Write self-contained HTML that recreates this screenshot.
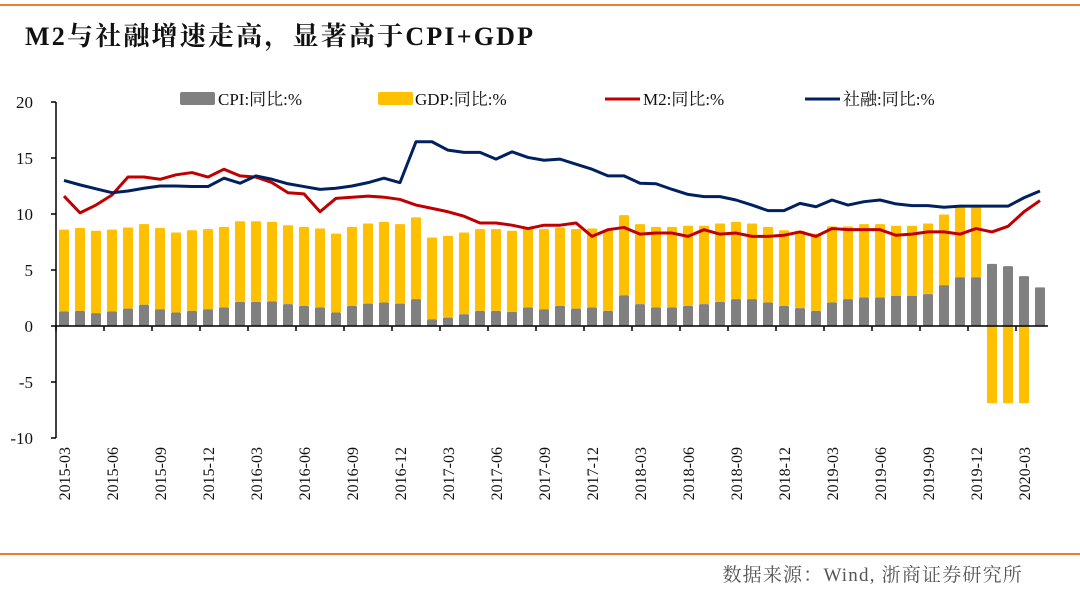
<!DOCTYPE html>
<html><head><meta charset="utf-8">
<style>
html,body{margin:0;padding:0;background:#fff;}
body{width:1080px;height:586px;overflow:hidden;font-family:"Liberation Serif","Noto Serif CJK SC",serif;}
</style></head>
<body>
<svg id="chart" width="1080" height="586" xmlns="http://www.w3.org/2000/svg" font-family="'Liberation Serif','Noto Serif CJK SC',serif">
  <line x1="0" y1="5" x2="1080" y2="5" stroke="#ed7d31" stroke-width="2"/>
  <text x="25" y="45" font-size="26" font-weight="bold" letter-spacing="2.2" fill="#111">M2与社融增速走高，显著高于CPI+GDP</text>
  <line x1="0" y1="554" x2="1080" y2="554" stroke="#ed7d31" stroke-width="2"/>
  <text x="1023" y="581" font-size="19" letter-spacing="1.2" fill="#555" text-anchor="end">数据来源：Wind, 浙商证券研究所</text>
  <g id="legend" font-size="17" fill="#111">
    <g><rect x="180" y="92" width="35" height="13" rx="2" fill="#808080"/><text x="218" y="105">CPI:同比:%</text></g>
    <g><rect x="378" y="92" width="35" height="13" rx="2" fill="#ffc000"/><text x="415" y="105">GDP:同比:%</text></g>
    <g><line x1="605" y1="99" x2="640" y2="99" stroke="#c00000" stroke-width="3"/><text x="643" y="105">M2:同比:%</text></g>
    <g><line x1="805" y1="99" x2="840" y2="99" stroke="#002060" stroke-width="3"/><text x="843" y="105">社融:同比:%</text></g>
  </g>
  <g id="plot"></g>
</svg>
<script>
const categories = ["2015-03","2015-04","2015-05","2015-06","2015-07","2015-08","2015-09","2015-10","2015-11","2015-12",
"2016-01","2016-02","2016-03","2016-04","2016-05","2016-06","2016-07","2016-08","2016-09","2016-10","2016-11","2016-12",
"2017-01","2017-02","2017-03","2017-04","2017-05","2017-06","2017-07","2017-08","2017-09","2017-10","2017-11","2017-12",
"2018-01","2018-02","2018-03","2018-04","2018-05","2018-06","2018-07","2018-08","2018-09","2018-10","2018-11","2018-12",
"2019-01","2019-02","2019-03","2019-04","2019-05","2019-06","2019-07","2019-08","2019-09","2019-10","2019-11","2019-12",
"2020-01","2020-02","2020-03","2020-04"];
const cpi = [1.3,1.35,1.15,1.3,1.55,1.9,1.5,1.2,1.35,1.5,1.65,2.15,2.15,2.2,1.95,1.8,1.65,1.2,1.8,2.0,2.1,2.0,2.4,0.6,0.75,1.05,1.35,1.35,1.25,1.65,1.5,1.8,1.55,1.65,1.35,2.75,1.95,1.65,1.65,1.8,1.95,2.15,2.4,2.4,2.1,1.8,1.6,1.35,2.1,2.4,2.55,2.55,2.7,2.7,2.85,3.65,4.35,4.35,5.55,5.35,4.45,3.45];
const gdp = [7.3,7.4,7.35,7.3,7.25,7.2,7.25,7.15,7.2,7.15,7.2,7.2,7.2,7.1,7.05,7.05,7.05,7.05,7.05,7.15,7.2,7.1,7.3,7.3,7.3,7.3,7.3,7.3,7.25,7.05,7.15,7.0,7.1,7.05,7.2,7.15,7.15,7.2,7.2,7.15,7.0,7.0,6.9,6.75,6.75,6.75,6.9,6.9,6.8,6.5,6.55,6.55,6.25,6.25,6.3,6.3,6.3,6.3,-6.9,-6.9,-6.9,0];
const m2 = [11.6,10.1,10.8,11.7,13.3,13.3,13.1,13.5,13.7,13.3,14.0,13.4,13.3,12.8,11.9,11.8,10.2,11.4,11.5,11.6,11.5,11.3,10.8,10.5,10.2,9.8,9.2,9.2,9.0,8.7,9.0,9.0,9.2,8.0,8.6,8.8,8.2,8.3,8.3,8.0,8.6,8.2,8.3,8.0,8.0,8.1,8.4,8.0,8.7,8.6,8.6,8.6,8.1,8.2,8.4,8.4,8.2,8.7,8.4,8.9,10.2,11.2];
const tsf = [13.0,12.6,12.25,11.9,12.05,12.3,12.5,12.5,12.45,12.45,13.2,12.75,13.4,13.1,12.7,12.45,12.2,12.3,12.5,12.8,13.2,12.8,16.45,16.45,15.7,15.5,15.5,14.9,15.55,15.05,14.8,14.9,14.45,14.0,13.4,13.4,12.75,12.7,12.2,11.75,11.55,11.55,11.25,10.8,10.3,10.3,10.95,10.65,11.25,10.8,11.1,11.25,10.9,10.75,10.75,10.6,10.7,10.7,10.7,10.7,11.45,12.05];
const yTicks = [20,15,10,5,0,-5,-10];

const NS = "http://www.w3.org/2000/svg";
const plot = document.getElementById('plot');
const X0 = 56, STEP = 16, Y0 = 326, PX = 11.2;
const xPos = i => X0 + 8 + STEP * i;
const yPos = v => Y0 - v * PX;
function mk(tag, attrs, parent) {
  const el = document.createElementNS(NS, tag);
  for (const k in attrs) el.setAttribute(k, attrs[k]);
  (parent || plot).appendChild(el);
  return el;
}
let ax = mk('line', {x1: X0, y1: yPos(20), x2: X0, y2: yPos(-10), stroke: '#000', 'stroke-width': 1.5});


yTicks.forEach(t => {
  const tk = mk('line', {x1: X0 - 5, y1: yPos(t), x2: X0, y2: yPos(t), stroke: '#000', 'stroke-width': 1.5});
  
  
  const lb = mk('text', {x: 33, y: yPos(t) + 6, 'text-anchor': 'end', 'font-size': 17, fill: '#111'});
  lb.textContent = t;
  
  
});
categories.forEach((c, i) => {
  const x = xPos(i) - 5;
  const g = gdp[i], p = cpi[i];
  if (g !== 0) {
    let top, h;
    if (g > 0) { top = yPos(p + g); h = g * PX; } else { top = Y0; h = -g * PX; }
    const r = mk('rect', {x: x, y: top, width: 10, height: h, fill: '#ffc000', rx: 1});
    
    
  }
  const r2 = mk('rect', {x: x, y: yPos(p), width: 10, height: p * PX, fill: '#808080', rx: 1});
  
  
});
let xa = mk('line', {x1: X0, y1: Y0, x2: xPos(categories.length - 1) + 8, y2: Y0, stroke: '#000', 'stroke-width': 1.5});


categories.forEach((c, i) => {
  if (i % 3 !== 0) return;
  const tk = mk('line', {x1: X0 + STEP * i, y1: Y0, x2: X0 + STEP * i, y2: Y0 + 5, stroke: '#000', 'stroke-width': 1.5});
  
  
  const lb = mk('text', {x: 0, y: 0, 'font-size': 16, fill: '#111', 'text-anchor': 'end', transform: `translate(${xPos(i) + 6},447) rotate(-90)`});
  lb.textContent = c;
  
  
});
function line(arr, color, name) {
  const pts = arr.map((v, i) => xPos(i) + ',' + yPos(v)).join(' ');
  const pl = mk('polyline', {points: pts, fill: 'none', stroke: color, 'stroke-width': 3, 'stroke-linejoin': 'round'});
  
  
}
line(m2, '#c00000', 'line-m2');
line(tsf, '#002060', 'line-tsf');
</script>
</body></html>
